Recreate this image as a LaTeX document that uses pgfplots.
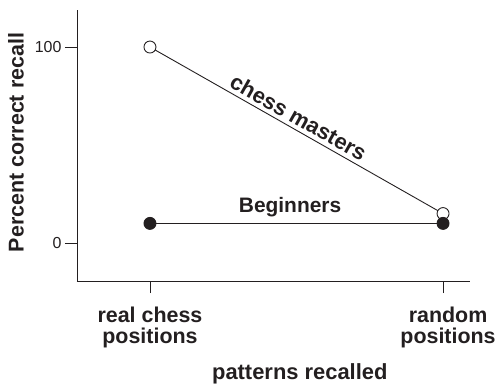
\documentclass[border=0pt]{standalone}
\usepackage{fontspec}
\setmainfont{Liberation Sans}
\usepackage{pgfplots}
\pgfplotsset{compat=1.18}
\definecolor{ink}{HTML}{231F20}
\begin{document}
\begin{tikzpicture}
\useasboundingbox (-77bp,-105bp) rectangle (421bp,281bp);
\begin{axis}[
  at={(0,0)}, anchor=south west,
  scale only axis, width=393bp, height=271bp,
  xmin=-0.249, xmax=1.092, ymin=-19.4, ymax=118.9,
  axis x line*=bottom, axis y line*=left,
  axis line style={ink, line width=0.9pt},
  tick style={ink, line width=0.9pt},
  tick align=outside, major tick length=12bp,
  xtick={0,1}, xticklabels={real chess\\positions, \hspace*{10bp}random\\\hspace*{10bp}positions},
  ytick={0,100},
  /pgf/number format/assume math mode=true,
  xticklabel style={align=center, text=ink, yshift=-10bp, font=\bfseries\fontsize{21.5}{22}\selectfont},
  yticklabel style={text=ink, font=\fontsize{16}{18}\selectfont},
  xlabel={patterns recalled},
  xlabel style={at={(axis description cs:0.567,-0.365)}, anchor=base, text=ink, font=\bfseries\fontsize{22}{24}\selectfont},
  ylabel={Percent correct recall},
  ylabel style={at={(axis description cs:-0.155,0.511)}, anchor=center, rotate=0, text=ink, font=\bfseries\fontsize{21.5}{23}\selectfont},
  clip=false,
]
\addplot[ink, line width=0.9pt, mark=*, mark size=6bp, mark options={fill=white, draw=ink, line width=0.9pt}] coordinates {(0,100) (1,15)};
\addplot[ink, line width=0.9pt, mark=*, mark size=6bp, mark options={fill=ink, draw=ink}] coordinates {(0,10) (1,10)};
\node[text=ink, font=\bfseries\fontsize{21}{23}\selectfont, anchor=base] at (axis cs:0.478,15.8) {Beginners};
\node[text=ink, font=\bfseries\fontsize{22}{24}\selectfont, anchor=south, rotate=-29.4, inner sep=3bp] at (axis cs:0.488,59.2) {chess masters};
\end{axis}
\end{tikzpicture}
\end{document}
